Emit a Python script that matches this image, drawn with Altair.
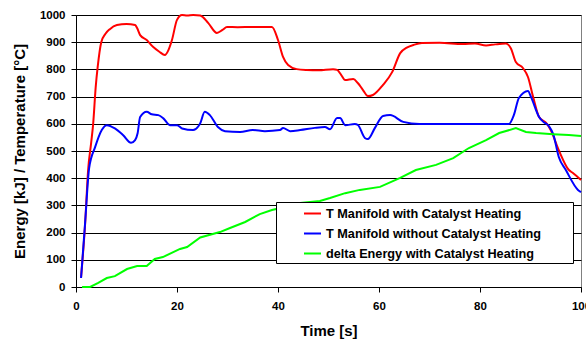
import altair as alt
import pandas as pd

FONT = "Liberation Sans"

series_names = [
    "T Manifold with Catalyst Heating",
    "T Manifold without Catalyst Heating",
    "delta Energy with Catalyst Heating",
]
series_colors = ["#FF0000", "#0000FF", "#00FF00"]

# T Manifold with catalyst heating [°C]
red_t = [1, 1.8, 2.4, 3.0, 3.4, 3.9, 4.3, 5.0, 5.8, 6.7, 8.1, 10, 11.7, 12.1, 12.7,
         14, 15.3, 16.5, 17.6, 18.3, 19, 20, 21, 22, 23.2, 24.6, 26.2, 27.9, 29, 29.9,
         32, 35, 38.8, 40, 41, 42, 43.7, 45.7, 48, 50.9, 51.7, 52.5, 53.3, 54.9, 55.8,
         56.8, 57.8, 58.8, 60.8, 62.6, 64.2, 65.5, 67, 68.5, 72, 76.6, 79, 81.2, 83,
         85.1, 86.1, 87.1, 88.5, 89.5, 90.5, 91.7, 93.1, 94, 95.6, 97.6, 98.4, 100]
red_v = [35, 230, 430, 530, 600, 735, 810, 900, 930, 948, 963, 967, 963, 952, 926,
         908, 882, 865, 853, 871, 908, 982, 1000, 998, 1000, 998, 970, 934, 945, 956,
         955, 956, 956, 908, 846, 816, 801, 798, 797, 801, 798, 780, 761, 765, 750,
         725, 702, 706, 743, 790, 860, 880, 891, 897, 898, 893, 895, 888, 892,
         895, 878, 827, 805, 772, 700, 625, 603, 577, 503, 430, 419, 393]

# T Manifold without catalyst heating [°C]
blue_t = [1, 1.8, 2.6, 3.8, 5.1, 6.1, 7.7, 9.3, 10.9, 11.7, 12.2, 12.7, 14, 15, 16.3,
          17.3, 18.6, 20, 21, 23.2, 24.2, 24.6, 25.5, 26.5, 28.1, 29.5, 32.5, 35, 37.4,
          40.4, 41, 42.4, 44.4, 47.3, 49.3, 50.3, 51.7, 52.3, 53.3, 55.2, 55.8, 57.2,
          57.8, 59.2, 60.8, 62.2, 64.8, 68, 74.7, 81.2, 85.7, 86.7, 87.7, 89.5, 90.1,
          91.7, 92.5, 93.7, 94.5, 95.6, 97, 99.4, 100]
blue_v = [33, 235, 437, 515, 577, 595, 583, 559, 530, 540, 565, 625, 644, 635, 632,
          620, 595, 595, 583, 577, 590, 602, 644, 632, 588, 573, 570, 577, 573,
          577, 585, 573, 577, 585, 588, 580, 621, 621, 595, 599, 596, 548,
          544, 585, 629, 632, 607, 599, 599, 599, 599, 632, 695, 721, 699,
          625, 608, 590, 562, 478, 430, 357, 349]

# delta energy with catalyst heating [kJ]
green_t = [1.2, 2.8, 4.4, 6.1, 7.7, 10.1, 12.1, 14, 15.6, 17.2, 20.6, 22, 24.6, 28.5,
           30.5, 33.5, 36.4, 38.8, 41.4, 44.4, 48.3, 50.3, 53.3, 56.2, 60.2, 64.2, 67.3,
           71.3, 74.7, 77.8, 81.2, 83.8, 87.1, 89.1, 91.1, 94.5, 97.6, 100]
green_v = [0, 0, 15, 33, 40, 66, 77, 77, 103, 110, 140, 147, 182, 202,
           217, 239, 268, 283, 294, 309, 316, 327, 345, 357, 368, 401, 430,
           449, 474, 511, 540, 566, 584, 570, 566, 562, 559, 555]

x_ticks = [0, 20, 40, 60, 80, 100]
y_ticks = list(range(0, 1001, 100))

frames = []
for name, ts, vs in zip(series_names, [red_t, blue_t, green_t], [red_v, blue_v, green_v]):
    frames.append(pd.DataFrame({"t": ts, "v": vs, "series": name}))
df = pd.concat(frames, ignore_index=True)

# blank braille cells give the legend box its margins left and right
pad_left = "\u2800" * 6
pad_right = "\u2800" * 3

color = alt.Color(
    "series:N",
    scale=alt.Scale(domain=series_names, range=series_colors),
    legend=alt.Legend(
        orient="none", legendX=200, legendY=187,
        title=pad_left, titleOrient="left", titleFont=FONT, titleFontSize=5.6,
        titlePadding=1,
        symbolType="stroke", symbolSize=289, symbolStrokeWidth=2,
        padding=2, rowPadding=3, labelOffset=4,
        labelFont=FONT, labelFontWeight="bold", labelFontSize=12.7, labelColor="black",
        labelLimit=0,
        labelExpr=f"datum.label + '{pad_right}'",
        strokeColor="black", fillColor="white",
    ),
)

x = alt.X(
    "t:Q",
    scale=alt.Scale(domain=[0, 100], nice=False),
    axis=alt.Axis(values=x_ticks, title="Time [s]", grid=False, tickSize=5,
                  labelPadding=8, labelFlush=False, titlePadding=12),
)
y = alt.Y(
    "v:Q",
    scale=alt.Scale(domain=[0, 1000], nice=False),
    axis=alt.Axis(values=y_ticks, title="Energy [kJ] / Temperature [°C]", grid=True,
                  format="d", tickSize=5, labelPadding=6, labelFlush=False,
                  titlePadding=12),
)

smooth = (
    alt.Chart(df)
    .transform_filter(alt.datum.series != series_names[2])
    .mark_line(strokeWidth=2, interpolate="monotone")
    .encode(x=x, y=y, color=color, detail="series:N")
)
energy = (
    alt.Chart(df)
    .transform_filter(alt.datum.series == series_names[2])
    .mark_line(strokeWidth=2)
    .encode(x=x, y=y, color=color)
)

chart = (
    alt.layer(smooth, energy)
    .properties(width=505, height=272, autosize=alt.AutoSizeParams(type="none"),
                padding={"left": 76, "top": 15, "right": 5, "bottom": 53},
                background="white")
    .configure_view(stroke="#808080", strokeWidth=1)
    .configure_axis(
        domainColor="black", tickColor="black", gridColor="black", gridWidth=1,
        labelFont=FONT, labelFontWeight="bold", labelFontSize=11.5, labelColor="black",
        titleFont=FONT, titleFontWeight="bold", titleFontSize=15, titleColor="black",
    )
)

chart.save("out.html", embed_options={"renderer": "svg", "actions": False})
